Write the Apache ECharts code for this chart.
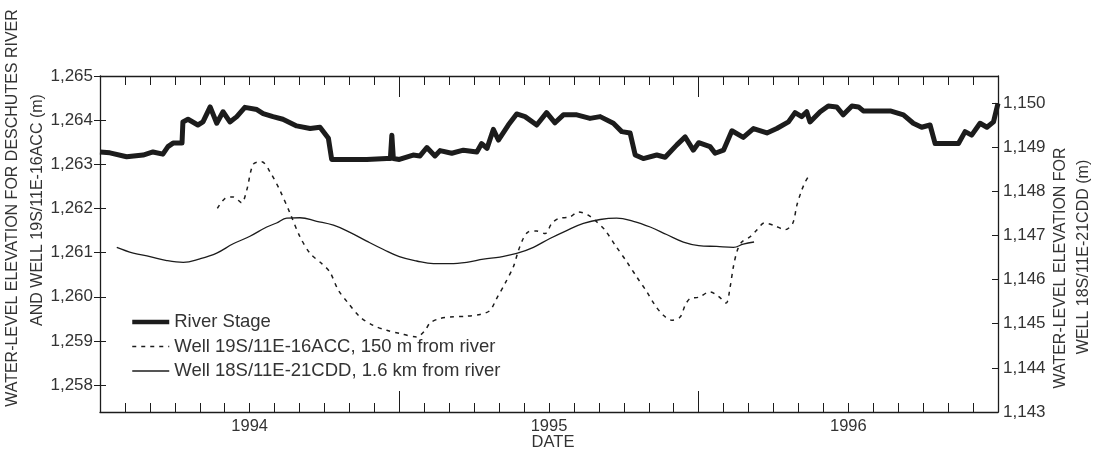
<!DOCTYPE html>
<html>
<head>
<meta charset="utf-8">
<script src="https://cdn.jsdelivr.net/npm/echarts@6/dist/echarts.min.js"></script>
<style>html,body{margin:0;padding:0;background:#fff}#c{width:1095px;height:455px}</style>
</head>
<body>
<div id="c"></div>
<script>
// ---- data (decimal years) ----
const riverDates = [
  1994.000,1994.033,1994.089,1994.144,1994.177,1994.210,1994.227,1994.244,1994.274,1994.277,
  1994.294,1994.327,1994.344,1994.368,1994.390,1994.411,1994.434,1994.457,1994.484,1994.524,
  1994.545,1994.578,1994.611,1994.657,1994.702,1994.735,1994.763,1994.774,1994.835,1994.891,
  1994.958,1994.970,1994.975,1994.980,
  1995.000,1995.046,1995.069,1995.092,1995.119,1995.136,1995.175,1995.214,1995.259,1995.275,
  1995.293,1995.314,1995.331,1995.364,1995.392,1995.420,1995.459,1995.492,1995.520,1995.548,
  1995.593,1995.637,1995.671,1995.715,1995.743,1995.771,1995.788,1995.815,1995.860,1995.888,
  1995.927,1995.955,1995.982,
  1996.000,1996.038,1996.055,1996.083,1996.111,1996.149,1996.183,1996.228,1996.261,1996.300,
  1996.322,1996.344,1996.361,1996.372,1996.406,1996.433,1996.461,1996.483,1996.512,1996.534,
  1996.550,1996.606,1996.640,1996.684,1996.717,1996.745,1996.773,1996.790,1996.829,1996.868,
  1996.890,1996.912,1996.940,1996.963,1996.985,1997.000
];
const riverStage = [
  1263.28,1263.26,1263.17,1263.21,1263.28,1263.23,1263.40,1263.48,1263.48,1263.96,
  1264.02,1263.89,1263.96,1264.30,1263.93,1264.19,1263.96,1264.08,1264.29,1264.24,
  1264.15,1264.08,1264.02,1263.87,1263.81,1263.84,1263.59,1263.11,1263.11,1263.11,
  1263.13,1263.13,1263.66,1263.13,
  1263.11,1263.21,1263.19,1263.38,1263.19,1263.31,1263.25,1263.32,1263.28,1263.47,
  1263.36,1263.79,1263.55,1263.89,1264.14,1264.08,1263.89,1264.17,1263.94,1264.12,
  1264.12,1264.04,1264.08,1263.93,1263.74,1263.71,1263.21,1263.13,1263.21,1263.16,
  1263.44,1263.62,1263.32,
  1263.49,1263.40,1263.25,1263.32,1263.76,1263.61,1263.81,1263.71,1263.81,1263.96,
  1264.17,1264.08,1264.19,1263.96,1264.19,1264.32,1264.30,1264.12,1264.32,1264.30,
  1264.21,1264.21,1264.21,1264.12,1263.93,1263.84,1263.89,1263.47,1263.47,1263.47,
  1263.74,1263.66,1263.93,1263.84,1263.96,1264.38
];
const well19Dates = [
  1994.392,1994.418,1994.445,1994.473,1994.490,1994.512,1994.540,1994.568,1994.601,1994.635,
  1994.668,1994.702,1994.741,1994.768,1994.796,1994.830,1994.869,1994.913,1994.958,
  1995.000,1995.058,1995.086,1995.103,1995.136,1995.169,1995.225,1995.270,1995.303,1995.325,
  1995.353,1995.381,1995.398,1995.414,1995.431,1995.459,1995.487,1995.509,1995.531,1995.570,
  1995.598,1995.631,1995.659,1995.687,1995.721,1995.760,1995.793,1995.827,1995.854,1995.882,
  1995.910,1995.938,1995.955,1995.971,
  1996.000,1996.038,1996.066,1996.092,1996.105,1996.116,1996.129,1996.144,1996.172,1996.194,
  1996.219,1996.250,1996.289,1996.314,1996.328,1996.344,1996.356,1996.370
];
const well19Level = [
  1262.00,1262.23,1262.26,1262.13,1262.41,1263.00,1263.06,1262.83,1262.41,1261.89,
  1261.36,1260.98,1260.75,1260.56,1260.15,1259.85,1259.54,1259.35,1259.24,
  1259.17,1259.09,1259.24,1259.41,1259.51,1259.54,1259.56,1259.60,1259.69,1259.96,
  1260.30,1260.68,1261.05,1261.32,1261.47,1261.49,1261.43,1261.66,1261.77,1261.81,
  1261.92,1261.85,1261.70,1261.51,1261.17,1260.79,1260.45,1260.11,1259.81,1259.58,
  1259.47,1259.54,1259.81,1259.96,
  1259.99,1260.11,1260.01,1259.86,1260.22,1260.68,1261.05,1261.24,1261.36,1261.51,
  1261.67,1261.62,1261.52,1261.66,1262.07,1262.41,1262.60,1262.76
];
const well18Dates = [
  1994.056,1994.111,1994.167,1994.223,1994.278,1994.334,1994.390,1994.445,1994.501,1994.557,
  1994.590,1994.624,1994.668,1994.724,1994.780,1994.835,1994.891,1994.947,
  1995.000,1995.058,1995.114,1995.169,1995.225,1995.281,1995.336,1995.392,1995.448,1995.503,
  1995.559,1995.615,1995.671,1995.726,1995.782,1995.838,1995.893,1995.949,
  1996.000,1996.060,1996.116,1996.149,1996.185
];
const well18Level = [
  1146.73,1146.60,1146.52,1146.43,1146.39,1146.47,1146.60,1146.81,1146.98,1147.19,
  1147.28,1147.39,1147.40,1147.32,1147.23,1147.07,1146.87,1146.68,
  1146.52,1146.42,1146.36,1146.36,1146.39,1146.46,1146.51,1146.59,1146.73,1146.93,
  1147.11,1147.27,1147.36,1147.39,1147.32,1147.19,1147.02,1146.85,
  1146.77,1146.75,1146.73,1146.80,1146.85
];
const yearLabels = [1994, 1995, 1996];
const yearBounds = [1995, 1996];
const leftTicks = [1258, 1259, 1260, 1261, 1262, 1263, 1264, 1265];
const rightTicks = [1143, 1144, 1145, 1146, 1147, 1148, 1149, 1150];
const seriesNames = ['River Stage', 'Well 19S/11E-16ACC, 150 m from river', 'Well 18S/11E-21CDD, 1.6 km from river'];

// ---- build ----
const monthTicks = [];
for (let m = 1; m < 36; m++) monthTicks.push(1994 + m / 12);
const labelPos = yearLabels.map(y => y + 0.5);
const zip = (a, b) => a.map((v, i) => [v, b[i]]);
const fmt = v => { const s = String(Math.round(v)); return s.slice(0, s.length - 3) + ',' + s.slice(-3); };
const INK = '#1c1c1c', TXT = '#333';
const FONT = '"Liberation Sans", Arial, Helvetica, sans-serif';
const XMIN = 1994, XMAX = 1997, LMIN = 1257.39, LMAX = 1265, RMIN = 1143, RMAX = 1150.61;

function xAx(pos, ticks, len, showLine, labels) {
  return {
    type: 'value', min: XMIN, max: XMAX, position: pos,
    axisLine: { show: showLine, onZero: false, lineStyle: { color: INK, width: 1.3 } },
    axisTick: { show: true, inside: true, length: len, customValues: ticks, lineStyle: { color: INK, width: 1 } },
    axisLabel: labels ? { show: true, customValues: labelPos, formatter: v => String(Math.floor(v)), color: TXT, fontSize: 16.5, fontFamily: FONT, margin: 6 } : { show: false },
    splitLine: { show: false }
  };
}

const chart = echarts.init(document.getElementById('c'), null, { renderer: 'canvas' });
chart.setOption({
  animation: false,
  backgroundColor: '#fff',
  textStyle: { fontFamily: FONT },
  grid: { left: 100, right: 97, top: 76, bottom: 43, containLabel: false },
  xAxis: [
    xAx('bottom', monthTicks, 9, true, true),
    xAx('bottom', yearBounds, 21, false, false),
    xAx('top', monthTicks, 9, true, false),
    xAx('top', yearBounds, 21, false, false)
  ],
  yAxis: [
    { type: 'value', position: 'left', min: LMIN, max: LMAX,
      axisLine: { show: true, onZero: false, lineStyle: { color: INK, width: 1.3 } },
      axisTick: { show: true, inside: false, length: 6, customValues: leftTicks, lineStyle: { color: INK } },
      axisLabel: { customValues: leftTicks, formatter: fmt, color: TXT, fontSize: 17, fontFamily: FONT, margin: 7 },
      splitLine: { show: false } },
    { type: 'value', position: 'right', min: RMIN, max: RMAX,
      axisLine: { show: true, onZero: false, lineStyle: { color: INK, width: 1.3 } },
      axisTick: { show: true, inside: true, length: 6, customValues: rightTicks, lineStyle: { color: INK } },
      axisLabel: { customValues: rightTicks, formatter: fmt, color: TXT, fontSize: 17, fontFamily: FONT, margin: 5 },
      splitLine: { show: false } },
    { type: 'value', position: 'left', min: LMIN, max: LMAX,
      axisLine: { show: false },
      axisTick: { show: true, inside: true, length: 6, customValues: leftTicks, lineStyle: { color: INK } },
      axisLabel: { show: false }, splitLine: { show: false } }
  ],
  legend: {
    orient: 'vertical', left: 125, top: 307, itemWidth: 37, itemHeight: 14, itemGap: 4.5, padding: 5,
    textStyle: { color: TXT, fontSize: 18.5, fontFamily: FONT, lineHeight: 20 },
    itemStyle: { opacity: 0 },
    selectedMode: false,
    data: [
      { name: seriesNames[0], lineStyle: { width: 4.5, color: INK, type: 'solid' }, itemStyle: { opacity: 0 } },
      { name: seriesNames[1], lineStyle: { width: 1.5, color: INK, type: [4, 5] }, itemStyle: { opacity: 0 } },
      { name: seriesNames[2], lineStyle: { width: 1.3, color: INK, type: 'solid' }, itemStyle: { opacity: 0 } }
    ]
  },
  series: [
    { name: seriesNames[0], type: 'line', xAxisIndex: 0, yAxisIndex: 0, data: zip(riverDates, riverStage),
      symbol: 'none', lineStyle: { color: INK, width: 5, join: 'round' }, itemStyle: { color: INK }, z: 3 },
    { name: seriesNames[1], type: 'line', xAxisIndex: 0, yAxisIndex: 0, data: zip(well19Dates, well19Level),
      symbol: 'none', smooth: 0.3, lineStyle: { color: INK, width: 1.5, type: [4, 5] }, itemStyle: { color: INK } },
    { name: seriesNames[2], type: 'line', xAxisIndex: 0, yAxisIndex: 1, data: zip(well18Dates, well18Level),
      symbol: 'none', smooth: 0.4, lineStyle: { color: INK, width: 1.3 }, itemStyle: { color: INK } }
  ],
  graphic: [
    { type: 'text', x: 12.5, y: 208, rotation: Math.PI / 2,
      style: { text: 'WATER-LEVEL ELEVATION FOR DESCHUTES RIVER', fill: TXT, font: '16px ' + FONT, textAlign: 'center', textVerticalAlign: 'middle' } },
    { type: 'text', x: 37.5, y: 210, rotation: Math.PI / 2,
      style: { text: 'AND WELL 19S/11E-16ACC (m)', fill: TXT, font: '16px ' + FONT, textAlign: 'center', textVerticalAlign: 'middle' } },
    { type: 'text', x: 1061, y: 268, rotation: Math.PI / 2,
      style: { text: 'WATER-LEVEL ELEVATION FOR', fill: TXT, font: '16px ' + FONT, textAlign: 'center', textVerticalAlign: 'middle' } },
    { type: 'text', x: 1084, y: 257, rotation: Math.PI / 2,
      style: { text: 'WELL 18S/11E-21CDD (m)', fill: TXT, font: '16px ' + FONT, textAlign: 'center', textVerticalAlign: 'middle' } },
    { type: 'text', x: 553, y: 442,
      style: { text: 'DATE', fill: TXT, font: '16.5px ' + FONT, textAlign: 'center', textVerticalAlign: 'middle' } }
  ]
});
</script>
</body>
</html>
